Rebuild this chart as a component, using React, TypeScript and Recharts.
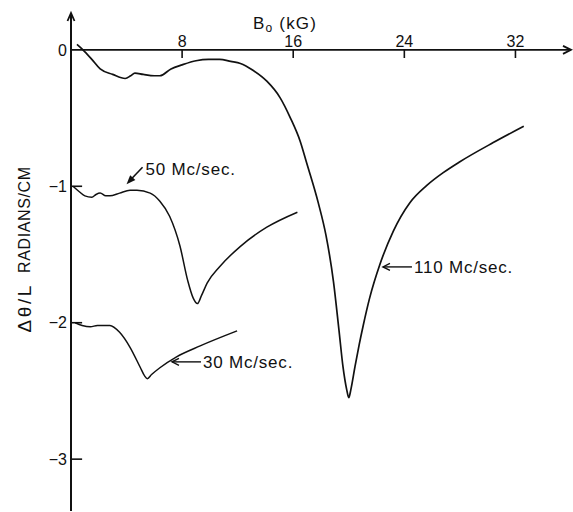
import React from 'react';
import { LineChart, Line, XAxis, YAxis, ReferenceLine, ReferenceDot, Label } from 'recharts';

const FONT = '"Liberation Sans", Arial, Helvetica, sans-serif';

// Field B0 (kG) and rotation per unit length (radians/cm) for each frequency
const field110 = [0.43, 0.86, 1.5, 2.1, 3.0, 3.9, 4.3, 4.6, 5.2, 6.0, 6.4, 7.2, 8.0, 9.0, 9.9, 10.7, 11.5, 12.2, 13.1, 14.1, 15.05, 15.8, 16.5, 16.97, 17.8, 18.36, 18.9, 19.3, 19.58, 19.85, 20.0, 20.15, 20.45, 20.75, 21.04, 21.5, 22.25, 23.2, 24.4, 25.6, 26.8, 28.0, 30.4, 32.6];
const angle110 = [0.04, 0.0, -0.07, -0.14, -0.18, -0.21, -0.19, -0.17, -0.18, -0.19, -0.19, -0.14, -0.11, -0.08, -0.07, -0.07, -0.085, -0.1, -0.15, -0.23, -0.35, -0.5, -0.67, -0.83, -1.12, -1.36, -1.7, -2.06, -2.32, -2.49, -2.55, -2.49, -2.32, -2.16, -2.02, -1.82, -1.57, -1.33, -1.12, -0.995, -0.9, -0.82, -0.68, -0.56];

const field50 = [0.14, 0.6, 1.0, 1.5, 1.8, 2.1, 2.5, 2.8, 3.5, 4.25, 4.75, 5.7, 6.4, 7.1, 7.85, 8.4, 8.8, 9.1, 9.4, 9.8, 10.7, 12.2, 14.1, 16.3];
const angle50 = [-1.0, -1.04, -1.07, -1.08, -1.06, -1.05, -1.07, -1.07, -1.05, -1.03, -1.03, -1.05, -1.11, -1.22, -1.44, -1.69, -1.82, -1.86, -1.8, -1.71, -1.59, -1.44, -1.3, -1.19];

const field30 = [0.3, 0.8, 1.4, 1.9, 2.3, 2.8, 3.5, 4.25, 5.0, 5.3, 5.5, 5.8, 6.4, 7.6, 9.3, 11.96];
const angle30 = [-2.0, -2.02, -2.03, -2.02, -2.02, -2.02, -2.07, -2.18, -2.33, -2.39, -2.41, -2.38, -2.33, -2.25, -2.17, -2.06];

const xTicks = [8, 16, 24, 32];
const yTicks = [-3, -2, -1, 0];
const yTickMarks = [-3, -2, -1];

// Curve labels and where their arrows point
const label50 = { text: '50 Mc/sec.', x: 4.0, y: -0.985 };
const label30 = { text: '30 Mc/sec.', x: 7.27, y: -2.287 };
const label110 = { text: '110 Mc/sec.', x: 22.46, y: -1.591 };

const X_MAX = 36;
const Y_MIN = -3.38;
const Y_MAX = 0.27;

const toPoints = (xs: number[], ys: number[]) => xs.map((x, i) => ({ x, y: ys[i] }));

const textStyle = { fontFamily: FONT, fontSize: 17, letterSpacing: 0.8, fill: '#111' };

const fmtY = (v: number) => (v < 0 ? '\u2212' + Math.abs(v) : String(v));

const XTickText = (value: number) => (props: any) => (
  <text x={props.cx} y={props.cy - 3} textAnchor="middle" style={{ fontFamily: FONT, fontSize: 16, fill: '#111' }}>
    {value}
  </text>
);

const RightArrowHead = (props: any) => (
  <polyline
    points={`${props.cx - 8},${props.cy - 4} ${props.cx},${props.cy} ${props.cx - 8},${props.cy + 4}`}
    fill="none"
    stroke="#111"
    strokeWidth={1.8}
  />
);

const UpArrowHead = (props: any) => (
  <polyline
    points={`${props.cx - 3.5},${props.cy + 8} ${props.cx},${props.cy} ${props.cx + 3.5},${props.cy + 8}`}
    fill="none"
    stroke="#111"
    strokeWidth={1.8}
  />
);

const Title = (props: any) => (
  <text x={props.cx} y={props.cy} style={{ fontFamily: FONT, fontSize: 17, fill: '#111', letterSpacing: 1.2 }}>
    B
    <tspan fontSize={12} dy={3}>o</tspan>
    <tspan dy={-3}>{'  (kG)'}</tspan>
  </text>
);

const SlantArrowLabel = (text: string) => (props: any) => {
  const { cx, cy } = props;
  return (
    <g>
      <line x1={cx + 16} y1={cy - 17} x2={cx + 5} y2={cy - 5.5} stroke="#111" strokeWidth={1.6} />
      <polygon points={`${cx},${cy} ${cx + 3.6},${cy - 9} ${cx + 8.8},${cy - 4.2}`} fill="#111" />
      <text x={cx + 19} y={cy - 9} style={textStyle}>
        {text}
      </text>
    </g>
  );
};

const LeftArrowLabel = (text: string) => (props: any) => {
  const { cx, cy } = props;
  return (
    <g>
      <line x1={cx} y1={cy} x2={cx + 29} y2={cy} stroke="#111" strokeWidth={1.4} />
      <polyline points={`${cx + 7},${cy - 3.5} ${cx},${cy} ${cx + 7},${cy + 3.5}`} fill="none" stroke="#111" strokeWidth={1.4} />
      <text x={cx + 31} y={cy + 6} style={textStyle}>
        {text}
      </text>
    </g>
  );
};

const YTitle = (props: any) => {
  const vb = props.viewBox || { x: 0, y: 13, width: 71, height: 498 };
  const cx = 25;
  const y1 = vb.y + vb.height * 0.415;
  const y2 = vb.y + vb.height * 0.592;
  return (
    <g style={{ fontFamily: FONT, fill: '#111' }}>
      <text x={cx} y={y1} transform={`rotate(-90 ${cx} ${y1})`} textAnchor="middle" dominantBaseline="central" fontSize={16} letterSpacing={0.6}>
        RADIANS/CM
      </text>
      <text x={cx} y={y2} transform={`rotate(-90 ${cx} ${y2})`} textAnchor="middle" dominantBaseline="central" fontSize={19} letterSpacing={2.5}>
        Δθ/L
      </text>
    </g>
  );
};

export default function App() {
  const s110 = toPoints(field110, angle110);
  const s50 = toPoints(field50, angle50);
  const s30 = toPoints(field30, angle30);

  return (
    <div style={{ position: 'absolute', left: 0, top: 0, background: '#fff' }}>
      <LineChart width={573} height={512} margin={{ top: 13, right: 2, bottom: 1, left: 0 }}>
        <XAxis type="number" dataKey="x" domain={[0, X_MAX]} allowDataOverflow hide />
        <YAxis
          type="number"
          dataKey="y"
          domain={[Y_MIN, Y_MAX]}
          allowDataOverflow
          ticks={yTicks}
          width={71}
          tickLine={false}
          tickSize={0}
          tickMargin={4}
          tickFormatter={fmtY}
          tick={{ fontFamily: FONT, fontSize: 16, fill: '#111' }}
          axisLine={{ stroke: '#111', strokeWidth: 2 }}
        >
          <Label content={YTitle} />
        </YAxis>

        <ReferenceLine y={0} stroke="#111" strokeWidth={1.6} />
        <ReferenceDot x={X_MAX} y={0} shape={RightArrowHead} />
        <ReferenceDot x={0} y={Y_MAX} shape={UpArrowHead} />
        <ReferenceDot x={13.1} y={0.154} shape={Title} />

        {xTicks.map((t) => (
          <ReferenceLine key={'xt' + t} segment={[{ x: t, y: 0 }, { x: t, y: -0.06 }]} stroke="#111" strokeWidth={1.6} />
        ))}
        {xTicks.map((t) => (
          <ReferenceDot key={'xl' + t} x={t} y={0} shape={XTickText(t)} />
        ))}
        {yTickMarks.map((t) => (
          <ReferenceLine key={'yt' + t} segment={[{ x: 0, y: t }, { x: 0.8, y: t }]} stroke="#111" strokeWidth={1.6} />
        ))}

        <Line data={s110} dataKey="y" type="monotone" stroke="#111" strokeWidth={1.7} dot={false} isAnimationActive={false} />
        <Line data={s50} dataKey="y" type="monotone" stroke="#111" strokeWidth={1.5} dot={false} isAnimationActive={false} />
        <Line data={s30} dataKey="y" type="monotone" stroke="#111" strokeWidth={1.5} dot={false} isAnimationActive={false} />

        <ReferenceDot x={label50.x} y={label50.y} shape={SlantArrowLabel(label50.text)} />
        <ReferenceDot x={label30.x} y={label30.y} shape={LeftArrowLabel(label30.text)} />
        <ReferenceDot x={label110.x} y={label110.y} shape={LeftArrowLabel(label110.text)} />
      </LineChart>
    </div>
  );
}
